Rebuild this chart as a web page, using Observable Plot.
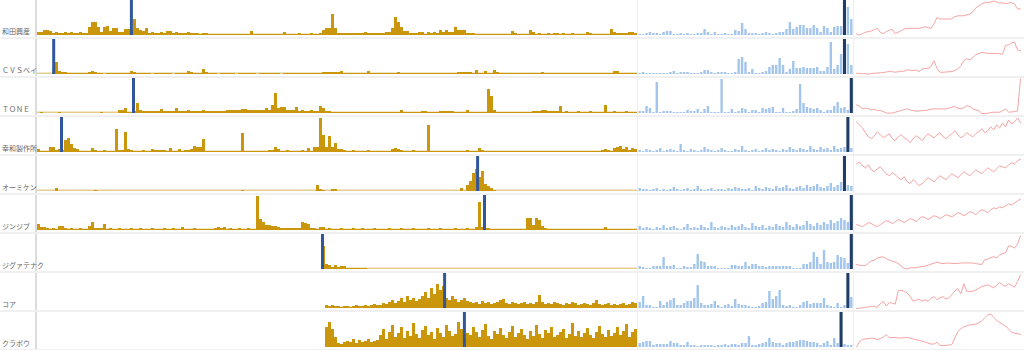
<!DOCTYPE html>
<html><head><meta charset="utf-8">
<script src="https://cdn.jsdelivr.net/npm/d3@7"></script>
<script src="https://cdn.jsdelivr.net/npm/@observablehq/plot@0.6"></script>
<style>
body{margin:0;background:#fff;}
#chart{position:relative;width:1024px;height:350px;overflow:hidden;font-family:"Noto Sans CJK JP","Noto Sans",sans-serif;}
.cell{position:absolute;}
.cell svg{display:block;}
.lab{position:absolute;left:2px;font-size:7px;line-height:8px;color:#666;white-space:nowrap;}
.hsep{position:absolute;left:0;width:1024px;height:2px;background:#f0f0f0;}
.vsep{position:absolute;top:0;height:350px;}
</style></head><body><div id="chart"></div>
<script>
const names = ["和田興産","ＣＶＳベイ","ＴＯＮＥ","幸和製作所","オーミケン","ジンジブ","ジグァテナク","コア","クラボウ"];

const goldStart = [0,0,0,0,0,0,95,96,96];
const goldMark = [31.3,5.4,32,8,146.7,149,95,135.7,142.3];

const gold1 = [3,3,5,5,4, 2,3,2,2,3,2,3,2,2,3,2,2, 8,13,13, 8,3,8,9, 4,7,7,3,3,6,6, 5,16,7,5,4,7, 2,3,2,2,3,2,4,4, 2,3,2,2,2,3,2,2,2,1,2,2,1, 1,1,1,1,1,1,1,1,1,1,1,1,1, 4, 1,1,1,1,1,1,1,1,1,1, 3, 1,1,1,1,2,1,1,1,2,1,1,2,5, 7,7,21,7, 2,2,2,2,2,2,2,2,2,3,2,2,2,2,2,2,3,3, 7,18,13,8,4,4,2,2,2, 3,3,1,3,2,3,2,5,3,5,3,3,8,5,5,5,2,2,2,1, 1,1,1,1,1,1,1,1,1,1,1, 4,2,1,1,1,1,5,3, 1,2,1,1,2,1,2,2,1,2, 1,1,2,1,1,1,1,3, 2,1,1,1,1,1,1, 6,3,2,2,2,2,3,3,2];
const gold2 = [0,0,0,0,0, 3, 12,3,2,2, 1,1,1,1,1,1,1,2, 3,2, 1,1,0,1,1,1,1,1,1,1,1, 3,2, 1,1,1,1,1,0,1,1,1,1,1,1,0,1,1,1,1, 3,2, 1,1,1, 5,2, 1,1,1,0,1,1,1,1,1,0,1,1,1,1,1,1,0,1,1,1,1,1,1,1,0,1,1,1,1,1,1,1,1,1,1,1,1,1,2,2,2,2,2, 2,3,1,1,1,1,1,1,1,1, 3, 1,1,1,1,1,1,1,1,1,2,1,1,1,1,1,1,1,1,1,1,1,1,1,1,1,1,1,1,1, 2,2,2,2,2,1, 4, 1,1, 3, 1,1, 4,2, 1,1,1,1,1,1,1,1,1,1,1,1,1,1, 2, 1,1,1,1,1,1,1,1,1,1,1,1,1,1,1,1,1,1,1,1,1,1,1, 3,3, 1,1,1,1,1,1];
const gold3 = [0,1,0,0,0, 0,0,1,0,0,0,0,0,0,0,0,0,0,0,0,0,1,0,0,0,0,0, 3,3,5, 1,1, 2, 10, 3,2,2,2,2,2,2, 4, 2,2,2,2, 5, 2,2,2,3,2,2,2,2,3,2,2,2,2,2,2,2, 3,3,3, 3,3,4, 4,3,3,3,3,3,3, 5, 3, 8, 20, 5, 6,6, 3,3,3, 6, 2,3,2,2,3,2,2, 7,5, 2,2,1,1,1,1,1,1,1,1,1,1,1,1,1,1,1,1,1,1,1,1,1,1,1, 3, 1,1,1,1,1,1,2,2,1,1,1,1,2,2,2,2,2,1,1,1,1,3,1,1,1,1,1,1, 24,17,3, 1,1,1,1,1,1,1,1,1,1,1,1, 2,2,2,3,3,2,2,2,2, 7, 1,2,1,1,1,2,1,1,1,2,1,1,1,1, 8, 1,1,2,1,1,1,2,1,1,1];
const gold4 = [3,1,1,1, 5,5, 2,3, 2, 12,14,8,4,3, 1,1,1,1, 4, 2,1,1,2,1,1,1, 23, 2,2, 20, 3,2, 1,1,1,2,1,1, 3, 2,2,2,2,1, 4, 1,1,3,1, 2,2,3, 6,5,5, 13, 1,1,1,1,1,1,1,1,1,1,1,1, 19, 1,1,1,1,1,1,1,1,2,2, 5,3, 1,1,2,1,1,1,1,2,1, 4, 1, 5,5, 34,17,5,16,5,9, 3,3,2, 1,1,2,1,1,1,1,2,1,1,1,1,1,1,1, 3,4,3,2,1, 1,1,2,1,1,1,1, 27, 1,1,1,1,1,1,1,1,1,1,1,1,2,1, 1,1,4,2,1,1,1,1,1,1, 1,1,1,1,1,1,1,1,1,1,1,1,1,1,1,1,1,1,1,1, 1,1,1,1,1,1,1,1,1,1,1,1,1, 2,3,2,1,4,5,6,3,5,2,4,3];
const gold5 = [0,0,0,0,0,0,3,0,0,0,0,0,0,0,0,0,0,0,0,1, 0,0,0,0,0,0,0,0,0,0,0,0,0,0,0,0,0,0,0,0, 0,0,0,0,0,0,0,0,0,0,0,0,0,0,0,0,0,0,0,0, 0,0,0,0,0,0,0,0,1,0,0,0,0,0,0,0,0,0,0,0, 0,0,0,0,0,0,0,0,0,0,0,0,0,6,2,1,0,0,2,2, 0,0,0,0,0,0,0,0,0,0,0,0,0,0,0,0,0,0,0,0, 0,0,0,0,0,0,0,0,0,0,0,0,0,0,0,0,0,0,0,0, 0,3,0,6,10,18,22,14,20,7,5,3,1,0,0,0,0,0,0,0, 0,0,0,0,0,0,0,0,0,0,0,0,0,0,0,0,0,0,0,0, 0,0,0,0,0,0,0,0,0,0,0,0,0,0,0,0,0,0,0,0];
const gold6 = [6, 3,3, 2,1,2,1, 4,4,2, 1,2,1,1,2,1,1, 4,8, 2,2,2, 6, 1,2,1,1,2,1,1,1,2,1,1,2,1,1,1,2,1,1,1,2,1,1,2,1,1, 3, 1,1,1,2,1,1,1,1,1,1, 2,3,2,3, 1,2,1,1,2,1,1,2,1,1, 34,11,8, 5,5, 4,4,3, 2,2,2,2,2,2, 2, 8, 7,6, 2,2,1, 3,3, 1,2,1,1, 1,2,1,1,1,2,1,1,2,1,1,1,2,1,1,1,1,2,1,1,1,2,1,1,1,2,1,1,1,1,2,1,1,1,2,1,1,1,1,2,1,1,1,2,1,1,3, 28, 3, 2, 2,1,1,1,1,1,1,1,1,1,1,1,1, 12,12,5,12,10,4,2, 1,1,1,1,1,1,1,1,1,1,1,1,1,1,1,1,1,1,1,3,1,1,1,1,1,1,1,1,1,1];
const gold7 = [23,5,4,2,4,2,3,3,1,1,1,1,1,1,1, 0,0,0,0,0,0,0,0,0,0, 0,0,0,0,0,0,0,0,0,0, 0,0,0,0,0,0,0,0,0,0, 0,0,0,0,0,0,0,0,0,0, 0,0,0,0,0,0,0,0,0,0, 0,0,0,0,0,0,0,0,0,0, 0,0,0,0,0,0,0,0,0,0, 0,0,0,0,0,0,0,0,0,0, 0,0,0,0,0,0,0,0,0,0];
const gold8 = [3,2,3,2, 2,1,2,2,1,2,3,2,2,3,2,3,4,3,3, 5,4,6,8,5,7,10,6,12,8,10,7,9, 12,16,10,20,14,24,18,22, 10,8,12,9,6,8,10,7,6, 5,6,4,7,5,6,4,5,6,8, 9,5,4,6,5,4,5,6,4,5,4,6,13, 6,4,5,4,6,5,4,3,5,4,6,5,3,4,5,4,3,5,8,4, 3,4,5,3,4,3,4,5,3,4,6,5];
const gold9 = [20,25,18,10, 4,3,5, 6,5,8,4,7,5,6,8,5,6,7, 12,18,8,15,22,10,14,20,9,16,11,24,13,9,17,21,12,15,8,19,14,10,22,16,11,13,25,18,9,14,12,20,15,10,17,23,11,8,16,13,19,12,9,15,21,10,14,18,12,8,16,11,22,13,9,17,14,20,10,12,15,18,9,13,24,11,16,10,14,19,12,9,15,21,13,10,17,11,14,20,12,16,23,10,15,18];

const blueMark = [60,60,62,61,60,62,62,61,59];
const blue1 = [1,1,2,3,2,2,1,3,4,4,1,1,2,1,2,1,1,2,2,6,3,1,3,1,1,2,1,1,5,4,12,6,2,2,2,1,2,3,2,1,2,3,3,6,13,6,8,10,10,7,7,10,7,3,9,7,3,8,9,9,0,28,16];
const blue2 = [1,2,1,1,1,1,1,1,1,2,3,1,2,2,2,1,1,1,2,4,4,2,1,2,2,2,1,1,2,15,17,12,2,5,1,1,2,3,7,9,9,16,9,2,5,13,6,6,7,6,6,6,7,3,3,7,32,5,9,20,0,30,9];
const blue3 = [2,2,7,5,1,31,1,2,2,2,1,1,1,1,3,2,2,4,1,4,7,1,1,1,34,1,1,4,1,2,5,4,1,3,3,1,5,4,5,6,1,1,5,1,1,2,4,29,10,6,5,4,5,3,1,3,3,7,11,5,6,3,0];
const blue4 = [2,1,3,2,1,2,4,1,2,3,2,1,8,2,1,3,2,1,2,5,3,2,1,2,4,2,1,1,3,2,6,2,1,2,3,1,2,4,2,3,2,1,3,2,5,3,2,4,3,2,6,3,2,5,3,4,2,6,3,4,5,0,4];
const blue5 = [3,2,2,1,2,3,1,2,1,2,4,2,1,2,3,1,2,5,2,1,2,3,1,2,2,1,3,2,4,3,2,2,3,1,5,3,2,4,3,2,5,3,4,6,3,2,4,5,3,6,4,5,7,4,3,5,8,4,6,9,0,6,5];
const blue6 = [4,2,3,2,1,3,2,5,2,3,4,2,1,3,6,2,3,2,5,3,2,8,3,2,4,3,2,5,3,4,6,3,2,7,4,3,5,2,4,3,6,4,3,8,5,3,6,4,5,9,6,4,7,5,8,6,10,7,9,12,10,8,0];
const blue7 = [3,2,1,1,3,3,3,12,3,3,4,1,1,3,2,2,5,15,8,7,3,3,3,1,1,1,1,4,4,3,3,7,3,5,5,3,3,2,3,3,3,3,3,3,3,1,1,1,5,5,7,17,12,5,19,7,6,7,14,12,11,6,0];
const blue8 = [6,12,3,3,1,1,7,3,6,8,10,3,3,5,7,7,10,23,5,3,3,4,7,3,1,3,4,2,9,4,3,3,2,1,1,2,5,6,17,9,12,18,3,2,3,1,1,3,6,7,4,5,5,5,10,3,2,1,5,1,3,0,11];
const blue9 = [4,5,6,6,2,3,3,3,3,6,4,4,2,2,5,2,2,1,2,2,2,2,1,2,2,3,2,3,3,2,4,4,11,2,2,3,4,5,9,5,4,4,2,4,5,5,6,7,7,6,5,5,4,2,4,6,2,9,4,0,3,2,2];

const red1 = [1.7,0.5,2,3.3,4,4.5,6,7.3,3,2,4,5.5,6,2,3.3,5,6.7,7,7.3,7.3,7.2,7.3,8,9,8,7.3,12,18.3,16.7,16.7,16.7,16.7,17,19,20,20,20,21,21.7,24,28,30,32,33.3,33.3,34,35,34,33,33,32.3,33,33.3,32,27,27];
const red2 = [1.3,1,0.7,0.7,0.3,1,1.3,1.5,1.8,2,2.5,3.3,2.8,2.3,2.8,3.3,3.3,4.7,4.3,4,4.7,3,5.5,6,6.3,8,14,6,2.3,2.3,2.5,2.8,3,4,5.7,9,14,16,15,17.3,20,21.3,22.3,22,21.5,21.3,21.3,21.3,21,20.7,29.5,30,32,33,25,24];
const red3 = [8.7,7.5,5,5.5,5,3.5,4.5,3,3,2,0.5,0.3,0.5,1.3,2.2,3,4,4.7,3.5,3,2.3,2.5,3,3,3.5,4.3,4.7,4.7,4.7,4.7,4.7,5.5,6.5,7,5.5,4.7,6,8,7,4.7,3.5,3,0,0,0.2,1,1.3,1.3,1.3,3,4.5,1.5,1.5,2,2.5,35];
const red4 = [31,28,25,20,16,14,17,21,18,15,17,19,14,12,16,18,15,13,10,14,17,15,12,16,19,17,15,18,20,16,14,17,19,22,18,15,17,20,18,16,19,21,24,20,22,26,23,28,25,30,26,33,29,31,35,30];
const red5 = [28,30,26,24,27,22,20,23,25,21,18,16,19,17,14,12,15,10,8,12,9,6,8,11,14,12,10,13,16,14,12,15,18,16,14,17,20,18,16,19,22,20,18,21,24,22,20,23,26,25,24,27,29,28,31,33];
const red6 = [6,5,4,6,8,7,5,4,6,8,10,9,7,9,11,10,8,10,12,11,9,12,14,13,11,13,15,14,12,14,16,15,14,16,18,17,15,17,19,18,16,19,21,20,18,21,23,22,24,23,25,27,26,28,30,32];
const red7 = [5,4.3,4,4,6.5,8.7,9.5,11.7,12.5,12.7,11,9.5,8.3,7.5,6,3.5,1,0.5,1.7,1.7,1.8,2.5,3,3.5,4.3,5.5,6.3,7.5,6.5,6,6.5,6.5,6.2,6,6.2,6.5,6.7,6.7,6.7,6.5,6,5.5,5,10,10.5,12,13,11.7,15,16,17,24,23.5,21.7,26,34];
const red8 = [0,0.3,0.7,1.2,1.7,2,2.3,1,5,7,2.5,6,5.3,4.5,18,18.5,17.5,15.7,12.3,7.3,8.5,9.5,7.3,9,7.3,10.5,12,9,11,12,9.5,11,14,18,20,15,25,17.3,17.3,17.5,18.7,20.5,22.3,23,24,22.5,21,23.5,26.3,24,22.5,25,23.5,21.7,27.3,34];
const red9 = [0.5,6,8.3,8.7,9,9.5,9,8,9,10.5,13,10,10.2,10,9.8,9.7,10,10.3,9.5,8.7,8,7.2,6.5,5.5,4.5,3.5,3.5,5.3,2,2,2,2.5,3,10,16,19,21,22,23,23.3,23.7,25,27,30,33,34,30.5,27.5,25.3,23.5,21.5,19,15.5,14.5,14,13.3];

const golds = [gold1,gold2,gold3,gold4,gold5,gold6,gold7,gold8,gold9];
const blues = [blue1,blue2,blue3,blue4,blue5,blue6,blue7,blue8,blue9];
const reds = [red1,red2,red3,red4,red5,red6,red7,red8,red9];

const GOLD="#c9960c", GOLDLT="#e3cd92", RULE1="#30569c", BLUE="#a3c5ec", RULE2="#1f3d66", RED="#f6a3a3";
const NG=200, NB=63;
const chart=document.getElementById("chart");
function place(node,left,top){const d=document.createElement("div");d.className="cell";d.style.left=left+"px";d.style.top=top+"px";d.appendChild(node);chart.appendChild(d);return d;}
function vline(left,w,color){const v=document.createElement("div");v.className="vsep";v.style.left=left+"px";v.style.width=w+"px";v.style.background=color;chart.appendChild(v);}
vline(35,2,"#dcdcdc");vline(637,1,"#eeeeee");vline(853,1,"#eeeeee");

names.forEach((name,r)=>{
  const top=39*r;
  const sep=document.createElement("div");sep.className="hsep";sep.style.top=(top+36.5)+"px";chart.appendChild(sep);
  const lab=document.createElement("div");lab.className="lab";lab.style.top=(top+27)+"px";lab.textContent=name;chart.appendChild(lab);

  const s=goldStart[r];
  const gd=golds[r].map((v,j)=>({i:s+j,v}));
  const g=Plot.plot({width:600,height:36,marginTop:0,marginRight:0,marginLeft:0,marginBottom:1,
    x:{domain:[0,NG],axis:null},y:{domain:[0,35],axis:null},
    marks:[
      Plot.rectY(gd,{x1:"i",x2:d=>d.i+1,y1:0,y2:1.5,fill:GOLDLT}),
      Plot.rectY(gd.filter(d=>d.v>0),{x1:"i",x2:d=>d.i+1,y:"v",fill:GOLD}),
      Plot.ruleX([goldMark[r]],{stroke:RULE1,strokeWidth:3})
    ]});
  place(g,37,top);

  const bd=blues[r].map((v,i)=>({i,v})).filter(d=>d.i!==blueMark[r]);
  const b=Plot.plot({width:215,height:36,marginTop:0,marginRight:0,marginLeft:0,marginBottom:1,
    x:{domain:[0,NB],axis:null},y:{domain:[0,35],axis:null},
    marks:[
      Plot.rectY(bd,{x1:d=>d.i+0.15,x2:d=>d.i+0.85,y:"v",fill:BLUE}),
      Plot.rectY([blueMark[r]],{x1:d=>d+0.05,x2:d=>d+0.95,y1:0,y2:35,fill:RULE2})
    ]});
  place(b,638,top);

  const rd=reds[r].map((v,k)=>({k,v}));
  const p=Plot.plot({width:168,height:36,marginTop:0.5,marginRight:2,marginLeft:2,marginBottom:1,
    x:{domain:[0,55],axis:null},y:{domain:[0,35],axis:null},
    marks:[Plot.lineY(rd,{x:"k",y:"v",stroke:RED,strokeWidth:1})]});
  place(p,854,top);
});
</script></body></html>
